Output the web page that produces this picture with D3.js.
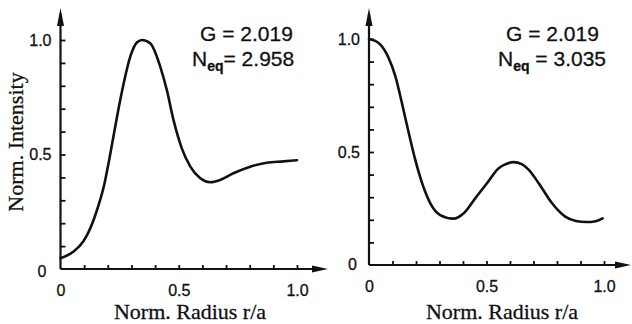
<!DOCTYPE html>
<html>
<head>
<meta charset="utf-8">
<script src="https://cdn.jsdelivr.net/npm/d3@7/dist/d3.min.js"></script>
<style>
  html, body { margin: 0; padding: 0; background: #fff; }
  svg { display: block; }
  .tick text { font-family: "Liberation Sans", Arial, sans-serif; font-size: 16px; fill: #111; stroke: #111; stroke-width: 0.3px; }
  .title { font-family: "Liberation Serif", "Times New Roman", serif; font-size: 22px; fill: #111; stroke: #111; stroke-width: 0.3px; }
  .note { font-family: "Liberation Sans", Arial, sans-serif; font-size: 21px; fill: #111; stroke: #111; stroke-width: 0.3px; }
</style>
</head>
<body>
<svg id="chart" width="632" height="324"></svg>
<script>
// Left panel: intensity profile peaking off-axis
const leftR = [0, 0.054, 0.096, 0.118, 0.152, 0.183, 0.211, 0.239, 0.267, 0.295, 0.324, 0.345,
               0.38, 0.422, 0.45, 0.478, 0.513, 0.549, 0.591, 0.633, 0.675, 0.731, 0.802, 0.872, 0.942, 1.0];
const leftI = [0.047, 0.075, 0.12, 0.16, 0.25, 0.36, 0.505, 0.665, 0.81, 0.927, 0.99, 1.0,
               0.985, 0.883, 0.78, 0.65, 0.527, 0.447, 0.396, 0.379, 0.389, 0.418, 0.447, 0.464, 0.47, 0.475];

// Right panel: intensity profile peaking on-axis
const rightR = [0, 0.041, 0.084, 0.112, 0.14, 0.169, 0.197, 0.226, 0.261, 0.303, 0.36, 0.403,
                0.452, 0.502, 0.552, 0.58, 0.615, 0.65, 0.68, 0.722, 0.779, 0.835, 0.88, 0.925, 0.965, 0.994];
const rightI = [1.0, 0.982, 0.915, 0.836, 0.717, 0.585, 0.465, 0.362, 0.273, 0.221, 0.205, 0.229,
                0.295, 0.362, 0.428, 0.445, 0.455, 0.446, 0.421, 0.362, 0.273, 0.214, 0.195, 0.19, 0.194, 0.206];

// Tick values and labels
const xTicks = [0.1, 0.2, 0.3, 0.4, 0.5, 0.6, 0.7, 0.8, 0.9, 1.0];
const yTicks = [0.1, 0.2, 0.3, 0.4, 0.5, 0.6, 0.7, 0.8, 0.9, 1.0];
const xLabels = ["0", "0.5", "1.0"];
const xLabelValues = [0, 0.5, 1.0];
const yLabels = ["0.5", "1.0"];
const yLabelValues = [0.5, 1.0];

// Annotations
const gValues = ["2.019", "2.019"];
const neqValues = ["2.958", "3.035"];

const xTitle = "Norm. Radius r/a";
const yTitle = "Norm. Intensity";

const svg = d3.select("#chart");

const panels = [
  { r: leftR, i: leftI, x0: 60.5, x1: 297, y0: 269, y1: 40, xReach: 1.131, yReach: 1.14,
    yZeroDx: -14, yZeroDy: 8, noteX: 200, neqGap: "= ", g: gValues[0], n: neqValues[0], titleX: 190 },
  { r: rightR, i: rightI, x0: 369, x1: 604, y0: 265, y1: 39, xReach: 1.115, yReach: 1.137,
    yZeroDx: -12, yZeroDy: 5, noteX: 506, neqGap: " = ", g: gValues[1], n: neqValues[1], titleX: 502 }
];

panels.forEach(p => {
  const x = d3.scaleLinear().domain([0, 1]).range([p.x0, p.x1]);
  const y = d3.scaleLinear().domain([0, 1]).range([p.y0, p.y1]);
  const g = svg.append("g");

  // axis lines with arrowheads
  g.append("line")
    .attr("x1", x(0)).attr("y1", y(0)).attr("x2", x(p.xReach) - 6).attr("y2", y(0))
    .attr("stroke", "#111").attr("stroke-width", 2.2);
  g.append("line")
    .attr("x1", x(0)).attr("y1", y(0)).attr("x2", x(0)).attr("y2", y(p.yReach) + 6)
    .attr("stroke", "#111").attr("stroke-width", 2.2);
  const xt = x(p.xReach), yt = y(0);
  g.append("path")
    .attr("d", `M${xt},${yt} L${xt - 16},${yt - 3.5} L${xt - 16},${yt + 3.5} Z`)
    .attr("fill", "#111");
  const ax = x(0), ay = y(p.yReach);
  g.append("path")
    .attr("d", `M${ax},${ay} L${ax - 3.5},${ay + 18} L${ax + 3.5},${ay + 18} Z`)
    .attr("fill", "#111");

  // x ticks pointing up
  const xAxis = d3.axisBottom(x).tickValues(xTicks).tickSizeInner(-4).tickSizeOuter(0).tickFormat("");
  g.append("g").attr("transform", `translate(0,${y(0)})`).call(xAxis)
    .call(s => s.select(".domain").remove())
    .call(s => s.selectAll(".tick line").attr("stroke", "#111").attr("stroke-width", 1.8));

  // x tick labels
  const xLab = d3.axisBottom(x).tickValues(xLabelValues).tickSize(0).tickPadding(16)
    .tickFormat((d, k) => xLabels[k]);
  g.append("g").attr("transform", `translate(0,${y(0)})`).call(xLab)
    .call(s => s.select(".domain").remove());

  // y ticks pointing right
  const yAxis = d3.axisLeft(y).tickValues(yTicks).tickSizeInner(-5).tickSizeOuter(0)
    .tickPadding(9).tickFormat(d => {
      const k = yLabelValues.indexOf(d);
      return k >= 0 ? yLabels[k] : "";
    });
  g.append("g").attr("transform", `translate(${x(0)},0)`).call(yAxis)
    .call(s => s.select(".domain").remove())
    .call(s => s.selectAll(".tick line").attr("stroke", "#111").attr("stroke-width", 1.8));

  // zero label on the y axis
  g.append("text").attr("class", "note")
    .attr("x", x(0) + p.yZeroDx).attr("y", y(0) + p.yZeroDy)
    .attr("text-anchor", "end")
    .style("font-size", "16px")
    .text("0");

  // curve
  const line = d3.line().x((d, k) => x(p.r[k])).y((d, k) => y(p.i[k])).curve(d3.curveMonotoneX);
  g.append("path").datum(p.r).attr("d", line)
    .attr("fill", "none").attr("stroke", "#111").attr("stroke-width", 2.6)
    .attr("stroke-linejoin", "round").attr("stroke-linecap", "round");

  // annotations
  g.append("text").attr("class", "note").attr("x", p.noteX).attr("y", 41)
    .text("G = " + p.g);
  const n = g.append("text").attr("class", "note").attr("x", p.noteX - 8).attr("y", 66);
  n.append("tspan").text("N");
  n.append("tspan").attr("dy", 5).style("font-size", "14px").style("font-weight", "bold").text("eq");
  n.append("tspan").attr("dy", -5).text(p.neqGap + p.n);

  // x title
  g.append("text").attr("class", "title").attr("x", p.titleX).attr("y", 319)
    .attr("text-anchor", "middle").text(xTitle);
});

// y title on the left panel
svg.append("text").attr("class", "title")
  .attr("transform", "translate(23,142) rotate(-90)")
  .attr("text-anchor", "middle").text(yTitle);
</script>
</body>
</html>
